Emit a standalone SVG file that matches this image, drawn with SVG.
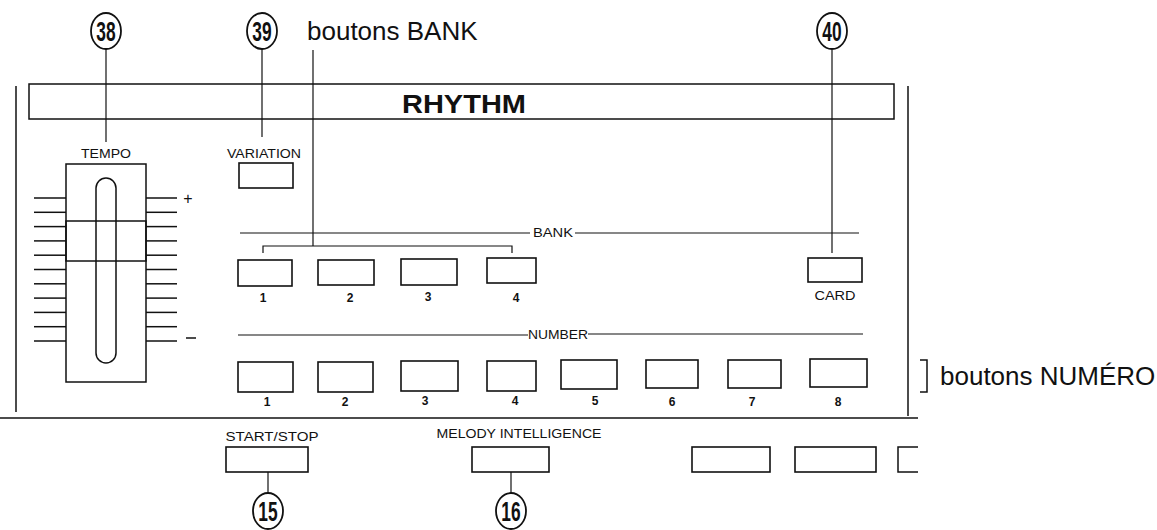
<svg xmlns="http://www.w3.org/2000/svg" width="1157" height="530" viewBox="0 0 1157 530">
<style>
.ln{stroke:#111;stroke-width:1.5;fill:none}
.thin{stroke:#111;stroke-width:1.2;fill:none}
.btn{fill:#fff;stroke:#111;stroke-width:1.6}
.lbl{font-family:"Liberation Sans",Arial,sans-serif;font-size:13px;fill:#111;text-anchor:middle}
.num{font-family:"Liberation Sans",Arial,sans-serif;font-size:12px;font-weight:bold;fill:#111;text-anchor:middle}
.big{font-family:"Liberation Sans",Arial,sans-serif;font-size:26px;fill:#111}
.circ{fill:#fff;stroke:#111;stroke-width:1.8}
.cn{font-family:"Liberation Sans",Arial,sans-serif;font-size:28px;font-weight:bold;fill:#111;text-anchor:middle}
</style>
<rect width="1157" height="530" fill="#fff"/>

<g id="panel">
  <line class="ln" x1="16" y1="86" x2="16" y2="412"/>
  <line class="ln" x1="908" y1="86" x2="908" y2="416"/>
  <line class="ln" x1="0" y1="418" x2="918" y2="418"/>
</g>

<g id="rhythm-title">
  <rect class="ln" x="29" y="84" width="865" height="35"/>
  <text x="464" y="113" font-family="Liberation Sans,Arial,sans-serif" font-size="25" font-weight="bold" fill="#111" text-anchor="middle" textLength="124" lengthAdjust="spacingAndGlyphs">RHYTHM</text>
</g>

<g id="connectors">
  <line class="thin" x1="106" y1="49" x2="106" y2="142"/>
  <line class="thin" x1="262" y1="49" x2="262" y2="137"/>
  <line class="thin" x1="313" y1="50" x2="313" y2="246"/>
  <polyline class="thin" points="263,253 263,246 512,246 512,253"/>
  <line class="thin" x1="832" y1="50" x2="832" y2="253"/>
  <line class="thin" x1="268" y1="472" x2="268" y2="493"/>
  <line class="thin" x1="511" y1="472" x2="511" y2="493"/>
  <polyline class="ln" points="920,360 927,360 927,392 920,392" stroke-width="2"/>
</g>

<g id="c38"><ellipse class="circ" cx="106" cy="31" rx="15" ry="18"/><text class="cn" x="0" y="0" transform="translate(106,41) scale(0.62,1)">38</text></g>
<g id="c39"><ellipse class="circ" cx="262" cy="31" rx="15" ry="18"/><text class="cn" x="0" y="0" transform="translate(262,41) scale(0.62,1)">39</text></g>
<g id="c40"><ellipse class="circ" cx="832" cy="31" rx="15" ry="18"/><text class="cn" x="0" y="0" transform="translate(832,41) scale(0.62,1)">40</text></g>
<g id="c15"><ellipse class="circ" cx="268" cy="511" rx="15" ry="18"/><text class="cn" x="0" y="0" transform="translate(268,521) scale(0.62,1)">15</text></g>
<g id="c16"><ellipse class="circ" cx="511" cy="511" rx="15" ry="18"/><text class="cn" x="0" y="0" transform="translate(511,521) scale(0.62,1)">16</text></g>

<g id="label-bank-buttons"><text class="big" x="307" y="40">boutons BANK</text></g>
<g id="label-number-buttons"><text class="big" x="940" y="385">boutons NUMÉRO</text></g>

<g id="tempo">
  <text class="lbl" x="106" y="158" textLength="50" lengthAdjust="spacingAndGlyphs">TEMPO</text>
  <rect class="ln" x="66" y="164" width="80" height="218"/>
  <rect class="ln" x="96" y="178" width="20" height="185" rx="10" ry="10"/>
  <rect class="ln" x="66" y="221" width="80" height="40" fill="#fff"/>
  <g class="ln">
    <line x1="34" y1="198" x2="66" y2="198"/><line x1="34" y1="212.3" x2="66" y2="212.3"/><line x1="34" y1="226.6" x2="66" y2="226.6"/><line x1="34" y1="240.9" x2="66" y2="240.9"/><line x1="34" y1="255.2" x2="66" y2="255.2"/><line x1="34" y1="269.5" x2="66" y2="269.5"/><line x1="34" y1="283.8" x2="66" y2="283.8"/><line x1="34" y1="298.1" x2="66" y2="298.1"/><line x1="34" y1="312.4" x2="66" y2="312.4"/><line x1="34" y1="326.7" x2="66" y2="326.7"/><line x1="34" y1="341" x2="66" y2="341"/>
    <line x1="146" y1="198" x2="177" y2="198"/><line x1="146" y1="212.3" x2="177" y2="212.3"/><line x1="146" y1="226.6" x2="177" y2="226.6"/><line x1="146" y1="240.9" x2="177" y2="240.9"/><line x1="146" y1="255.2" x2="177" y2="255.2"/><line x1="146" y1="269.5" x2="177" y2="269.5"/><line x1="146" y1="283.8" x2="177" y2="283.8"/><line x1="146" y1="298.1" x2="177" y2="298.1"/><line x1="146" y1="312.4" x2="177" y2="312.4"/><line x1="146" y1="326.7" x2="177" y2="326.7"/><line x1="146" y1="341" x2="177" y2="341"/>
  </g>
  <text x="188" y="204" font-family="Liberation Sans,Arial,sans-serif" font-size="16" fill="#111" text-anchor="middle">+</text>
  <line class="ln" x1="186" y1="338" x2="196" y2="338"/>
</g>

<g id="variation">
  <text class="lbl" x="264" y="158" textLength="74" lengthAdjust="spacingAndGlyphs">VARIATION</text>
  <rect class="btn" x="239" y="163" width="54" height="25"/>
</g>

<g id="bank-row">
  <line class="thin" x1="240" y1="233" x2="530" y2="233"/>
  <text class="lbl" x="553" y="237" textLength="40" lengthAdjust="spacingAndGlyphs">BANK</text>
  <line class="thin" x1="575" y1="233" x2="859" y2="233"/>
  <rect class="btn" x="238" y="260" width="54" height="26"/>
  <rect class="btn" x="318" y="260" width="56" height="25"/>
  <rect class="btn" x="401" y="259" width="56" height="26"/>
  <rect class="btn" x="487" y="258" width="49" height="25"/>
  <text class="num" x="263" y="302">1</text>
  <text class="num" x="350" y="302">2</text>
  <text class="num" x="428" y="301">3</text>
  <text class="num" x="516" y="302">4</text>
</g>

<g id="card">
  <rect class="btn" x="808" y="258" width="54" height="24"/>
  <text class="lbl" x="835" y="300" textLength="41" lengthAdjust="spacingAndGlyphs">CARD</text>
</g>

<g id="number-row">
  <line class="thin" x1="238" y1="335" x2="528" y2="335"/>
  <text class="lbl" x="558" y="339" textLength="60" lengthAdjust="spacingAndGlyphs">NUMBER</text>
  <line class="thin" x1="588" y1="334" x2="863" y2="334"/>
  <rect class="btn" x="238" y="362" width="55" height="30"/>
  <rect class="btn" x="318" y="362" width="55" height="30"/>
  <rect class="btn" x="401" y="361" width="57" height="30"/>
  <rect class="btn" x="487" y="361" width="49" height="30"/>
  <rect class="btn" x="561" y="360" width="56" height="29"/>
  <rect class="btn" x="646" y="360" width="52" height="28"/>
  <rect class="btn" x="728" y="360" width="53" height="28"/>
  <rect class="btn" x="810" y="359" width="57" height="28"/>
  <text class="num" x="267" y="406">1</text>
  <text class="num" x="345" y="406">2</text>
  <text class="num" x="425" y="405">3</text>
  <text class="num" x="515" y="405">4</text>
  <text class="num" x="595" y="405">5</text>
  <text class="num" x="672" y="406">6</text>
  <text class="num" x="752" y="406">7</text>
  <text class="num" x="838" y="406">8</text>
</g>

<g id="start-stop">
  <text class="lbl" x="272" y="441" textLength="93" lengthAdjust="spacingAndGlyphs">START/STOP</text>
  <rect class="btn" x="226" y="447" width="82" height="25"/>
</g>

<g id="melody-intelligence">
  <text class="lbl" x="519" y="438" textLength="165" lengthAdjust="spacingAndGlyphs">MELODY  INTELLIGENCE</text>
  <rect class="btn" x="472" y="447" width="77" height="25"/>
</g>

<g id="other-buttons">
  <rect class="btn" x="692" y="447" width="78" height="25"/>
  <rect class="btn" x="795" y="447" width="81" height="25"/>
  <polyline class="ln" points="918,447 898,447 898,472 918,472"/>
</g>
</svg>
